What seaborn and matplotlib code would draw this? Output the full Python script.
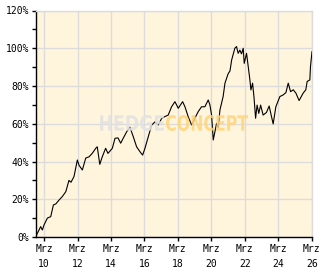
import numpy as np
import pandas as pd
import matplotlib
matplotlib.use("Agg")
import matplotlib.pyplot as plt
import seaborn as sns
from matplotlib.textpath import TextPath
from matplotlib.font_manager import FontProperties
from matplotlib.patches import PathPatch
from matplotlib.transforms import Affine2D, IdentityTransform

# decimal years and cumulative performance in %
years = [2009.69, 2009.97, 2010.07, 2010.17, 2010.37, 2010.57, 2010.73, 2010.87,
         2011.07, 2011.26, 2011.47, 2011.66, 2011.78, 2011.96, 2012.16, 2012.26,
         2012.46, 2012.66, 2012.86, 2013.05, 2013.26, 2013.35, 2013.50, 2013.65,
         2013.85, 2013.99, 2014.25, 2014.41, 2014.59, 2014.75, 2014.90, 2015.11,
         2015.30, 2015.50, 2015.70, 2015.90, 2016.06, 2016.20, 2016.40, 2016.60,
         2016.80, 2016.99, 2017.20, 2017.39, 2017.59, 2017.79, 2017.99, 2018.19,
         2018.45, 2018.59, 2018.78, 2018.99, 2019.18, 2019.38, 2019.58, 2019.78,
         2019.98, 2020.08, 2020.18, 2020.28, 2020.48, 2020.58, 2020.68, 2020.87,
         2020.98, 2021.17, 2021.28, 2021.38, 2021.57, 2021.67, 2021.77, 2021.87,
         2021.97, 2022.07, 2022.13, 2022.27, 2022.36, 2022.47, 2022.53, 2022.63,
         2022.72, 2022.81, 2022.90, 2023.00, 2023.11, 2023.26, 2023.46, 2023.62,
         2023.74, 2023.86, 2024.02, 2024.26, 2024.46, 2024.62, 2024.76, 2024.90,
         2025.06, 2025.22, 2025.41, 2025.65, 2025.81, 2025.89, 2026.05, 2026.09,
         2026.18]
perf = [0.5, 5.5, 3.7, 6.4, 10.0, 10.8, 17.0, 17.5,
        19.6, 21.4, 24.0, 30.0, 29.0, 32.0, 40.8, 38.0,
        35.5, 41.8, 42.5, 44.3, 47.0, 47.8, 38.5, 42.5,
        47.0, 44.3, 47.0, 52.3, 52.5, 49.7, 52.3, 55.8,
        58.2, 53.2, 47.8, 45.2, 43.4, 47.0, 53.2, 59.3,
        61.0, 59.3, 62.9, 63.8, 64.6, 69.0, 71.7, 68.2,
        71.7, 69.0, 63.8, 59.3, 62.9, 66.4, 69.0, 69.0,
        72.6, 70.0, 64.6, 51.4, 60.2, 58.0, 67.3, 74.4,
        81.5, 86.5, 88.0, 93.8, 100.0, 100.9, 97.3, 99.0,
        97.0, 100.0, 92.0, 97.3, 91.0, 83.2, 77.9, 81.5,
        73.5, 62.9, 69.9, 65.5, 69.9, 64.6, 66.0, 69.4,
        64.6, 59.9, 69.0, 74.4, 75.3, 76.5, 81.5, 77.0,
        78.0, 76.2, 72.3, 76.2, 78.0, 82.4, 83.2, 90.3,
        98.2]

tick_years = [10, 12, 14, 16, 18, 20, 22, 24, 26]
y_ticks = [0, 20, 40, 60, 80, 100, 120]

df = pd.DataFrame({"year": years, "perf": perf})

plt.rcParams["font.family"] = ["DejaVu Sans Mono"]
fig = plt.figure(figsize=(3.32, 2.69), dpi=100)
W, H = 332, 269
ax = fig.add_axes([36 / W, (269 - 237) / H, (312 - 36) / W, (237 - 10.5) / H])
ax.set_facecolor("#fff5dc")

grid_c = "#dcdcdc"
sns.lineplot(data=df, x="year", y="perf", color="black", linewidth=0.8, ax=ax, zorder=3)

ax.set_xlim(2009.69, 2026.18)
ax.set_ylim(0, 120)
xt = [2000 + t + 0.17 for t in tick_years]
ax.set_xticks(xt)
ax.set_xticklabels([f"Mrz\n{t}" for t in tick_years], fontsize=7, linespacing=1.6)
ax.set_yticks(y_ticks)
ax.set_yticklabels([f"{v}%" for v in y_ticks], fontsize=7)
ax.set_yticks(np.arange(10, 120, 20), minor=True)
ax.tick_params(axis="both", which="both", direction="out", length=3, width=1,
               color="black", pad=2)
ax.grid(True, which="major", color=grid_c, linewidth=1, zorder=0)
ax.set_axisbelow(True)
for s in ["top", "right"]:
    ax.spines[s].set_color(grid_c)
    ax.spines[s].set_linewidth(1)
for s in ["left", "bottom"]:
    ax.spines[s].set_color("black")
    ax.spines[s].set_linewidth(1)
ax.set_xlabel("")
ax.set_ylabel("")

# watermark, squeezed into its box (pixel coords from top-left)
fp = FontProperties(family="DejaVu Sans", weight="bold")
def watermark(word, x0, x1, top, bottom, color):
    p = TextPath((0, 0), word, size=20, prop=fp)
    ext = p.get_extents()
    sx = (x1 - x0) / ext.width
    sy = (bottom - top) / ext.height
    tr = Affine2D().translate(-ext.x0, -ext.y0).scale(sx, sy).translate(x0, H - bottom)
    patch = PathPatch(tr.transform_path(p), facecolor=color, edgecolor="none",
                      alpha=0.85, transform=IdentityTransform(), zorder=5)
    fig.add_artist(patch)

watermark("HEDGE", 100, 164, 115, 131, "#e2e2e2")
watermark("CONCEPT", 166, 248, 115, 131, "#ffd47a")

fig.savefig("out.png", dpi=100)
